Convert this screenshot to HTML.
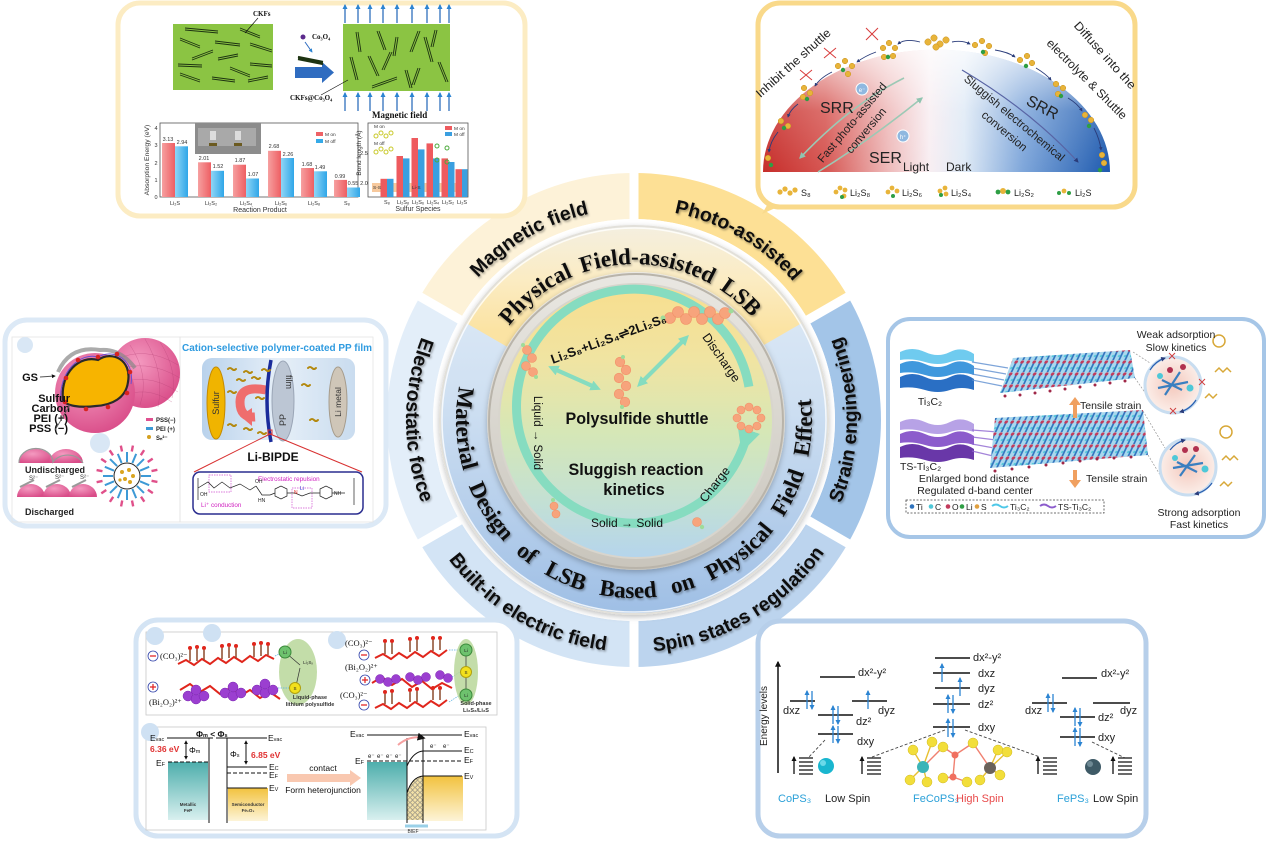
<!DOCTYPE html>
<html><head><meta charset="utf-8">
<style>
html,body{margin:0;padding:0;background:#fff;}
svg{display:block;}
</style></head><body>
<svg width="1269" height="842" viewBox="0 0 1269 842" xmlns="http://www.w3.org/2000/svg" font-family="Liberation Sans, sans-serif">
<defs>
<filter id="sh" x="-10%" y="-10%" width="120%" height="130%"><feDropShadow dx="1.2" dy="1.6" stdDeviation="1" flood-color="#000" flood-opacity="0.35"/></filter>
<filter id="rsh" x="-10%" y="-10%" width="120%" height="120%"><feDropShadow dx="0" dy="2" stdDeviation="3" flood-color="#000" flood-opacity="0.25"/></filter>
<linearGradient id="ringB" x1="0" y1="226" x2="0" y2="613" gradientUnits="userSpaceOnUse"><stop offset="0" stop-color="#e4eef8"/><stop offset="0.45" stop-color="#cfe0f2"/><stop offset="1" stop-color="#9fbfe5"/></linearGradient>
<linearGradient id="ringY" x1="0" y1="226" x2="0" y2="330" gradientUnits="userSpaceOnUse"><stop offset="0" stop-color="#f4efe0"/><stop offset="0.5" stop-color="#fbecc4"/><stop offset="1" stop-color="#fbe3a3"/></linearGradient>
<linearGradient id="disk" x1="0" y1="285" x2="0" y2="557" gradientUnits="userSpaceOnUse"><stop offset="0" stop-color="#f8de8e"/><stop offset="0.28" stop-color="#f0e4a2"/><stop offset="0.55" stop-color="#d5e7b7"/><stop offset="0.8" stop-color="#c3e0d4"/><stop offset="1" stop-color="#b5d5ec"/></linearGradient>
<linearGradient id="bez" x1="0" y1="273" x2="0" y2="570" gradientUnits="userSpaceOnUse"><stop offset="0" stop-color="#e9e7e2"/><stop offset="1" stop-color="#c9c5bc"/></linearGradient>
<linearGradient id="dome" x1="763" y1="0" x2="1110" y2="0" gradientUnits="userSpaceOnUse"><stop offset="0" stop-color="#c62d2a"/><stop offset="0.18" stop-color="#d65652"/><stop offset="0.36" stop-color="#eeb9b9"/><stop offset="0.48" stop-color="#f8eef2"/><stop offset="0.58" stop-color="#dfeaf6"/><stop offset="0.75" stop-color="#7ea6da"/><stop offset="1" stop-color="#1d59ae"/></linearGradient>
<linearGradient id="domeW" x1="0" y1="50" x2="0" y2="172" gradientUnits="userSpaceOnUse"><stop offset="0" stop-color="#fff" stop-opacity="0.75"/><stop offset="0.5" stop-color="#fff" stop-opacity="0.15"/><stop offset="1" stop-color="#fff" stop-opacity="0"/></linearGradient>
<linearGradient id="teal" x1="0" y1="0" x2="0" y2="1"><stop offset="0" stop-color="#4eaeac"/><stop offset="1" stop-color="#d9f0ef"/></linearGradient>
<linearGradient id="yel" x1="0" y1="0" x2="0" y2="1"><stop offset="0" stop-color="#f2c23e"/><stop offset="1" stop-color="#fdf4d8"/></linearGradient>
<linearGradient id="cell" x1="0" y1="0" x2="1" y2="0"><stop offset="0" stop-color="#b9d2ec"/><stop offset="0.5" stop-color="#e6eff8"/><stop offset="1" stop-color="#c9dcef"/></linearGradient>
<linearGradient id="barR" x1="0" y1="0" x2="1" y2="0"><stop offset="0" stop-color="#f6a0a0"/><stop offset="1" stop-color="#ee5f63"/></linearGradient>
<linearGradient id="barB" x1="0" y1="0" x2="1" y2="0"><stop offset="0" stop-color="#8fd6f6"/><stop offset="1" stop-color="#2fa6e8"/></linearGradient>
<radialGradient id="pink" cx="0.4" cy="0.35" r="0.7"><stop offset="0" stop-color="#f49ac0"/><stop offset="1" stop-color="#d94c88"/></radialGradient>
<radialGradient id="cir" cx="0.5" cy="0.5" r="0.5"><stop offset="0" stop-color="#f4c8bc"/><stop offset="1" stop-color="#fbeee9"/></radialGradient>
<pattern id="lat" width="6" height="12" patternUnits="userSpaceOnUse" patternTransform="skewX(-25)"><rect width="6" height="12" fill="#a9d8ee"/><line x1="3" y1="2" x2="3" y2="12" stroke="#2f72bd" stroke-width="1.8"/><circle cx="3" cy="2" r="1.7" fill="#c23b5c"/><circle cx="1" cy="8" r="1.1" fill="#4ec8d8"/></pattern>
<pattern id="dots" width="5" height="5" patternUnits="userSpaceOnUse"><rect width="5" height="5" fill="#f4e2a8"/><circle cx="2.5" cy="2.5" r="1.8" fill="none" stroke="#777" stroke-width="0.6"/></pattern>
<marker id="ab" viewBox="0 0 10 10" refX="8" refY="5" markerWidth="4" markerHeight="4" orient="auto"><path d="M0,0L10,5L0,10z" fill="#2b84d2"/></marker>
<marker id="ak" viewBox="0 0 10 10" refX="8" refY="5" markerWidth="4" markerHeight="4" orient="auto"><path d="M0,0L10,5L0,10z" fill="#111"/></marker>
<marker id="an" viewBox="0 0 10 10" refX="8" refY="5" markerWidth="4" markerHeight="4" orient="auto"><path d="M0,0L10,5L0,10z" fill="#2a3c7a"/></marker>
<marker id="ag" viewBox="0 0 10 10" refX="8" refY="5" markerWidth="4" markerHeight="4" orient="auto"><path d="M0,0L10,5L0,10z" fill="#8fc4b0"/></marker>
<marker id="am" viewBox="0 0 10 10" refX="6" refY="5" markerWidth="2.6" markerHeight="2.6" orient="auto"><path d="M0,0L10,5L0,10z" fill="#84dcbf"/></marker>
<path id="tMag" d="M435.7,347.8 A211,211 0 0 1 670.6,212.2"/>
<path id="tPho" d="M597.4,212.2 A211,211 0 0 1 832.3,347.8"/>
<path id="tStr" d="M804.8,563.3 A223,223 0 0 0 804.8,276.7"/>
<path id="tSpin" d="M593.7,648.5 A232,232 0 0 0 852,499.3"/>
<path id="tBuilt" d="M416,499.3 A232,232 0 0 0 674.3,648.5"/>
<path id="tElec" d="M459.4,273.4 A228,228 0 0 0 459.4,566.6"/>
<path id="tTop" d="M477.1,425.5 A157,157 0 0 1 790.9,414.5"/>
<path id="tBot" d="M483.1,325.7 A178,178 0 1 0 791.2,336.5"/>
</defs>

<rect width="1269" height="842" fill="#fff"/>

<!-- ===== outer wedges ===== -->
<path d="M420.1,296.5 A247,247 0 0 1 634,173 L634,219 A201,201 0 0 0 459.9,319.5 Z" fill="#fdf2d8"/>
<path d="M634,173 A247,247 0 0 1 847.9,296.5 L808.1,319.5 A201,201 0 0 0 634,219 Z" fill="#fde095"/>
<path d="M847.9,296.5 A247,247 0 0 1 847.9,543.5 L808.1,520.5 A201,201 0 0 0 808.1,319.5 Z" fill="#a3c5e8"/>
<path d="M847.9,543.5 A247,247 0 0 1 634,667 L634,621 A201,201 0 0 0 808.1,520.5 Z" fill="#bcd4ee"/>
<path d="M634,667 A247,247 0 0 1 420.1,543.5 L459.9,520.5 A201,201 0 0 0 634,621 Z" fill="#d3e4f5"/>
<path d="M420.1,543.5 A247,247 0 0 1 420.1,296.5 L459.9,319.5 A201,201 0 0 0 459.9,520.5 Z" fill="#e3eef9"/>
<g stroke="#fff" stroke-width="9">
<line x1="634" y1="420" x2="634" y2="160"/><line x1="634" y1="420" x2="856" y2="292"/><line x1="634" y1="420" x2="856" y2="548"/>
<line x1="634" y1="420" x2="634" y2="680"/><line x1="634" y1="420" x2="412" y2="548"/><line x1="634" y1="420" x2="412" y2="292"/>
</g>
<circle cx="634" cy="420" r="201" fill="#fff"/>

<g font-weight="bold" font-size="19.5" fill="#111" filter="url(#sh)" text-anchor="middle">
<text><textPath href="#tMag" startOffset="50%">Magnetic field</textPath></text>
<text><textPath href="#tPho" startOffset="50%">Photo-assisted</textPath></text>
<text><textPath href="#tStr" startOffset="50%">Strain engineering</textPath></text>
<text><textPath href="#tSpin" startOffset="50%">Spin states regulation</textPath></text>
<text><textPath href="#tBuilt" startOffset="50%">Built-in electric field</textPath></text>
<text><textPath href="#tElec" startOffset="50%">Electrostatic force</textPath></text>
</g>

<!-- ===== inner ring ===== -->
<circle cx="634" cy="420" r="194" fill="url(#ringB)" stroke="#e2e0da" stroke-width="2" filter="url(#rsh)"/>
<path d="M634,420 L466.9,323.5 A193,193 0 0 1 801.1,323.5 Z" fill="url(#ringY)"/>
<circle cx="634" cy="420" r="192" fill="none" stroke="#fff" stroke-width="1.5" opacity="0.8"/>
<g font-family="Liberation Serif, serif" font-weight="bold" font-size="23" fill="#111" filter="url(#sh)" text-anchor="middle">
<text word-spacing="4"><textPath href="#tTop" startOffset="50%">Physical Field-assisted LSB</textPath></text>
<text word-spacing="10"><textPath href="#tBot" startOffset="50%">Material Design of LSB Based on Physical Field Effect</textPath></text>
</g>

<!-- bezel + disk -->
<circle cx="636" cy="421" r="149" fill="url(#bez)" filter="url(#rsh)"/>
<circle cx="636" cy="421" r="147" fill="none" stroke="#b9b4aa" stroke-width="2"/>
<circle cx="636" cy="421" r="137" fill="url(#disk)" stroke="#d8d5cd" stroke-width="2"/>

<!-- mint cycle -->
<path d="M744.4,443.5 A117,117 0 1 1 748.9,386.8" fill="none" stroke="#86dcc0" stroke-width="9" marker-start="url(#am)"/>
<line x1="597" y1="388" x2="552" y2="368" stroke="#86dcc0" stroke-width="4" marker-end="url(#am)"/>
<line x1="552" y1="368" x2="597" y2="388" stroke="#86dcc0" stroke-width="4" marker-end="url(#am)"/>
<line x1="686" y1="338" x2="640" y2="384" stroke="#86dcc0" stroke-width="4" marker-end="url(#am)"/>
<line x1="640" y1="384" x2="686" y2="338" stroke="#86dcc0" stroke-width="4" marker-end="url(#am)"/>

<!-- molecules (orange) -->
<g fill="#f7a47c" stroke="#f19168" stroke-width="0.6">
<circle cx="670" cy="318" r="5.5"/><circle cx="678" cy="312" r="5.5"/><circle cx="686" cy="319" r="5.5"/><circle cx="694" cy="312" r="5.5"/><circle cx="702" cy="319" r="5.5"/><circle cx="710" cy="312" r="5.5"/><circle cx="718" cy="319" r="5.5"/><circle cx="725" cy="313" r="5.5"/>
<circle cx="527" cy="350" r="4.5"/><circle cx="532" cy="358" r="4.5"/><circle cx="526" cy="366" r="4.5"/><circle cx="533" cy="372" r="4.5"/>
<circle cx="620" cy="362" r="4.8"/><circle cx="626" cy="370" r="4.8"/><circle cx="619" cy="378" r="4.8"/><circle cx="626" cy="386" r="4.8"/><circle cx="619" cy="394" r="4.8"/><circle cx="625" cy="402" r="4.8"/>
<circle cx="741" cy="410" r="4"/><circle cx="749" cy="407" r="4"/><circle cx="757" cy="410" r="4"/><circle cx="761" cy="418" r="4"/><circle cx="757" cy="426" r="4"/><circle cx="749" cy="429" r="4"/><circle cx="741" cy="426" r="4"/><circle cx="737" cy="418" r="4"/>
<circle cx="554" cy="506" r="4"/><circle cx="556" cy="514" r="4"/><circle cx="697" cy="522" r="4.5"/>
</g>
<g fill="#9edc9a"><circle cx="663" cy="318" r="2.5"/><circle cx="731" cy="311" r="2.5"/><circle cx="523" cy="345" r="2"/><circle cx="536" cy="377" r="2"/><circle cx="623" cy="357" r="2"/><circle cx="622" cy="407" r="2"/><circle cx="553" cy="500" r="2"/><circle cx="702" cy="527" r="2.2"/></g>

<!-- center texts -->
<g fill="#111">
<text transform="translate(610,343) rotate(-20)" text-anchor="middle" font-size="13" font-weight="bold">Li₂S₈+Li₂S₄⇌2Li₂S₆</text>
<text x="637" y="424" text-anchor="middle" font-size="16.5" font-weight="bold" textLength="143" lengthAdjust="spacingAndGlyphs">Polysulfide shuttle</text>
<text x="636" y="475" text-anchor="middle" font-size="16.5" font-weight="bold" textLength="135" lengthAdjust="spacingAndGlyphs">Sluggish reaction</text>
<text x="634" y="495" text-anchor="middle" font-size="16.5" font-weight="bold">kinetics</text>
<text transform="translate(718,360) rotate(55)" text-anchor="middle" font-size="12.5">Discharge</text>
<text transform="translate(718,487) rotate(-52)" text-anchor="middle" font-size="12.5">Charge</text>
<text transform="translate(534,433) rotate(90)" text-anchor="middle" font-size="11.5">Liquid → Solid</text>
<text x="627" y="527" text-anchor="middle" font-size="12">Solid → Solid</text>
</g>

<!-- ===== Panel 1: magnetic field ===== -->
<rect x="118" y="3" width="407" height="213" rx="22" fill="#fff" stroke="#fcecc3" stroke-width="5"/>
<rect x="173" y="24" width="100" height="66" fill="#8bc443"/>
<rect x="343" y="24" width="107" height="67" fill="#8bc443"/>
<g stroke="#1d3311" stroke-width="0.9">
<path d="M185,28L218,31M185,30L218,33M240,28L260,36M240,30L260,38M180,38L200,46M180,40L200,48M215,41L240,44M215,43L240,46M250,43L272,50M250,45L272,52M192,58L213,50M192,60L213,52M218,58L238,54M218,60L238,56M250,63L272,65M250,65L272,67M178,64L202,65M178,66L202,67M230,67L250,75M230,69L250,77M180,73L200,80M180,75L200,82M212,77L235,80M212,79L235,82M248,80L268,76M248,82L268,78"/>
<path d="M356,32L359,52M358,32L361,52M377,31L384,50M379,31L386,50M396,37L393,56M398,37L395,56M418,31L410,52M420,31L412,52M435,30L431,47M437,30L433,47M350,57L356,80M352,57L358,80M368,56L377,76M370,56L379,76M390,52L382,70M392,52L384,70M424,37L431,62M426,37L433,62M405,70L410,88M407,70L412,88M372,86L397,77M372,88L397,79M418,68L412,85M420,68L414,85M438,62L446,82M440,62L448,82"/>
</g>
<g stroke="#2f6fbc" stroke-width="1.3">
<line x1="345" y1="23" x2="345" y2="5" marker-end="url(#ab)"/><line x1="358" y1="23" x2="358" y2="5" marker-end="url(#ab)"/><line x1="370" y1="23" x2="370" y2="5" marker-end="url(#ab)"/><line x1="383" y1="23" x2="383" y2="5" marker-end="url(#ab)"/><line x1="397" y1="23" x2="397" y2="5" marker-end="url(#ab)"/><line x1="412" y1="23" x2="412" y2="5" marker-end="url(#ab)"/><line x1="427" y1="23" x2="427" y2="5" marker-end="url(#ab)"/><line x1="440" y1="23" x2="440" y2="5" marker-end="url(#ab)"/><line x1="449" y1="23" x2="449" y2="5" marker-end="url(#ab)"/>
<line x1="345" y1="111" x2="345" y2="93" marker-end="url(#ab)"/><line x1="358" y1="111" x2="358" y2="93" marker-end="url(#ab)"/><line x1="370" y1="111" x2="370" y2="93" marker-end="url(#ab)"/><line x1="383" y1="111" x2="383" y2="93" marker-end="url(#ab)"/><line x1="397" y1="111" x2="397" y2="93" marker-end="url(#ab)"/><line x1="412" y1="111" x2="412" y2="93" marker-end="url(#ab)"/><line x1="427" y1="111" x2="427" y2="93" marker-end="url(#ab)"/><line x1="440" y1="111" x2="440" y2="93" marker-end="url(#ab)"/><line x1="449" y1="111" x2="449" y2="93" marker-end="url(#ab)"/>
</g>
<polygon points="295,67 322,67 322,62 334,72.5 322,83 322,78 295,78" fill="#2f6cc0"/>
<circle cx="303" cy="37" r="2.5" fill="#5b2a8c"/>
<line x1="305" y1="42" x2="312" y2="52" stroke="#2f6cc0" stroke-width="1" marker-end="url(#ab)"/>
<path d="M298,57L323,62M298,59L323,64" stroke="#1d3311" stroke-width="2.2"/>
<g font-family="Liberation Serif, serif" font-weight="bold" fill="#111">
<text x="312" y="39" font-size="7">Co₃O₄</text>
<text x="253" y="16" font-size="7">CKFs</text>
<text x="290" y="100" font-size="7">CKFs@Co₃O₄</text>
<text x="372" y="118" font-size="9">Magnetic   field</text>
</g>
<line x1="258" y1="18" x2="245" y2="33" stroke="#111" stroke-width="0.7"/>
<line x1="321" y1="95" x2="348" y2="80" stroke="#111" stroke-width="0.7"/>
<!-- chart 1 -->
<rect x="160" y="123" width="198" height="74" fill="none" stroke="#555" stroke-width="0.8"/>
<rect x="195" y="123" width="66" height="31" fill="#8c8c8c"/>
<rect x="198" y="128" width="58" height="18" fill="#a9a9a9"/>
<rect x="210" y="131" width="6" height="9" fill="#ddd"/><rect x="235" y="131" width="6" height="9" fill="#ddd"/>
<rect x="209" y="143" width="8" height="3" fill="#6b5a20"/><rect x="234" y="143" width="8" height="3" fill="#6b5a20"/>
<g>
<rect x="162" y="143" width="13" height="54" fill="url(#barR)"/><rect x="175" y="146.3" width="13" height="50.7" fill="url(#barB)"/>
<rect x="198" y="162.3" width="13" height="34.7" fill="url(#barR)"/><rect x="211" y="170.8" width="13" height="26.2" fill="url(#barB)"/>
<rect x="233" y="164.7" width="13" height="32.3" fill="url(#barR)"/><rect x="246" y="178.5" width="13" height="18.5" fill="url(#barB)"/>
<rect x="268" y="150.8" width="13" height="46.2" fill="url(#barR)"/><rect x="281" y="158" width="13" height="39" fill="url(#barB)"/>
<rect x="301" y="168" width="13" height="29" fill="url(#barR)"/><rect x="314" y="171.3" width="13" height="25.7" fill="url(#barB)"/>
<rect x="334" y="179.9" width="13" height="17.1" fill="url(#barR)"/><rect x="347" y="187.5" width="13" height="9.5" fill="url(#barB)"/>
</g>
<g font-size="5.5" fill="#333" text-anchor="middle">
<text x="168" y="141">3.13</text><text x="182" y="144">2.94</text><text x="204" y="160">2.01</text><text x="218" y="168">1.52</text><text x="240" y="162">1.87</text><text x="253" y="176">1.07</text><text x="274" y="148">2.68</text><text x="288" y="156">2.26</text><text x="307" y="166">1.68</text><text x="320" y="169">1.49</text><text x="340" y="178">0.99</text><text x="353" y="185">0.55</text>
<text x="156" y="130">4</text><text x="156" y="147">3</text><text x="156" y="165">2</text><text x="156" y="182">1</text><text x="156" y="199">0</text>
<text x="175" y="205">Li₂S</text><text x="211" y="205">Li₂S₂</text><text x="246" y="205">Li₂S₄</text><text x="281" y="205">Li₂S₆</text><text x="314" y="205">Li₂S₈</text><text x="347" y="205">S₈</text>
<text x="260" y="212" font-size="7">Reaction Product</text>
<text transform="translate(149,160) rotate(-90)" font-size="6.8">Absorption Energy (eV)</text>
</g>
<rect x="316" y="132" width="7" height="4" fill="#ee6266"/><rect x="316" y="139" width="7" height="4" fill="#35aae8"/>
<text x="325" y="136" font-size="4.8" fill="#333">M on</text><text x="325" y="143" font-size="4.8" fill="#333">M off</text>
<!-- chart 2 -->
<rect x="368" y="123" width="100" height="74" fill="none" stroke="#555" stroke-width="0.8"/>
<rect x="372" y="183" width="95" height="9" fill="#f6c08c" opacity="0.85"/>
<g>
<rect x="380.5" y="178.8" width="6.5" height="18.2" fill="#ee5a5e"/><rect x="387" y="178.8" width="6.5" height="18.2" fill="#3a9fe0"/>
<rect x="396.5" y="156" width="6.5" height="41" fill="#ee5a5e"/><rect x="403" y="158.4" width="6.5" height="38.6" fill="#3a9fe0"/>
<rect x="411.5" y="138" width="6.5" height="59" fill="#ee5a5e"/><rect x="418" y="149.4" width="6.5" height="47.6" fill="#3a9fe0"/>
<rect x="426.5" y="143.4" width="6.5" height="53.6" fill="#ee5a5e"/><rect x="433" y="158.4" width="6.5" height="38.6" fill="#3a9fe0"/>
<rect x="441.5" y="158.4" width="6.5" height="38.6" fill="#ee5a5e"/><rect x="448" y="162" width="6.5" height="35" fill="#3a9fe0"/>
<rect x="455.5" y="169.2" width="6.5" height="27.8" fill="#ee5a5e"/><rect x="462" y="169.2" width="5.5" height="27.8" fill="#3a9fe0"/>
</g>
<g fill="none" stroke="#c9c92a" stroke-width="1"><circle cx="376" cy="136" r="2"/><circle cx="381" cy="133" r="2"/><circle cx="386" cy="136" r="2"/><circle cx="391" cy="133" r="2"/><circle cx="376" cy="152" r="2"/><circle cx="381" cy="149" r="2"/><circle cx="386" cy="152" r="2"/><circle cx="391" cy="149" r="2"/><circle cx="437" cy="146" r="2" stroke="#4caa3c"/><circle cx="447" cy="148" r="2" stroke="#4caa3c"/><circle cx="437" cy="160" r="2" stroke="#4caa3c"/><circle cx="447" cy="162" r="2" stroke="#4caa3c"/></g>
<rect x="445" y="126" width="7" height="4" fill="#ee5a5e"/><rect x="445" y="132" width="7" height="4" fill="#3a9fe0"/>
<g font-size="4.8" fill="#333"><text x="454" y="130">M on</text><text x="454" y="136">M off</text><text x="374" y="128">M on</text><text x="374" y="145">M off</text><text x="373" y="189">S-S</text><text x="412" y="189">Li-S</text></g>
<g font-size="5.5" fill="#333" text-anchor="middle">
<text x="364" y="185">2.0</text><text x="364" y="155">2.5</text>
<text x="387" y="204">S₈</text><text x="403" y="204">Li₂S₈</text><text x="418" y="204">Li₂S₆</text><text x="433" y="204">Li₂S₄</text><text x="448" y="204">Li₂S₂</text><text x="462" y="204">Li₂S</text>
<text x="418" y="211" font-size="7">Sulfur Species</text>
<text transform="translate(361,153) rotate(-90)" font-size="6.5">Bond length (Å)</text>
</g>

<!-- ===== Panel 2: photo-assisted ===== -->
<path d="M770,200 L762,214 L782,205 Z" fill="#f9da8c"/>
<rect x="758" y="3" width="377" height="204" rx="22" fill="#fff" stroke="#f9d98a" stroke-width="5"/>
<path d="M763,172 A173,122 0 0 1 1110,172 Z" fill="url(#dome)"/>
<path d="M763,172 A173,122 0 0 1 1110,172 Z" fill="url(#domeW)"/>
<path d="M904,78 Q850,105 800,158" fill="none" stroke="#9cc9b5" stroke-width="1.6" marker-end="url(#ag)"/>
<path d="M818,172 Q870,140 922,98" fill="none" stroke="#9cc9b5" stroke-width="1.6" marker-end="url(#ag)"/>
<path d="M962,70 Q1030,110 1078,162" fill="none" stroke="#5864a4" stroke-width="1.2" marker-end="url(#an)"/>
<g fill="#222">
<text x="820" y="113" font-size="16">SRR</text>
<text x="869" y="163" font-size="16">SER</text>
<text transform="translate(1040,112) rotate(28)" text-anchor="middle" font-size="16">SRR</text>
<text x="903" y="171" font-size="12">Light</text><text x="946" y="171" font-size="12">Dark</text>
<text transform="translate(855,125) rotate(-50)" text-anchor="middle" font-size="11.5">Fast photo-assisted</text>
<text transform="translate(869,133) rotate(-50)" text-anchor="middle" font-size="11.5">conversion</text>
<text transform="translate(1012,121) rotate(40)" text-anchor="middle" font-size="11.5">Sluggish electrochemical</text>
<text transform="translate(1002,134) rotate(40)" text-anchor="middle" font-size="11.5">conversion</text>
<text transform="translate(796,66) rotate(-42)" text-anchor="middle" font-size="12" textLength="96" lengthAdjust="spacingAndGlyphs">Inhibit the shuttle</text>
<text transform="translate(1102,58) rotate(48)" text-anchor="middle" font-size="12" textLength="86" lengthAdjust="spacingAndGlyphs">Diffuse into the</text>
<text transform="translate(1084,82) rotate(45)" text-anchor="middle" font-size="12" textLength="108" lengthAdjust="spacingAndGlyphs">electrolyte &amp; Shuttle</text>
</g>
<circle cx="862" cy="89" r="6" fill="#8fb8e0" stroke="#fff"/><text x="862" y="92" font-size="6" fill="#fff" text-anchor="middle">e⁻</text>
<circle cx="903" cy="136" r="6" fill="#8fb8e0" stroke="#fff"/><text x="903" y="139" font-size="6" fill="#fff" text-anchor="middle">h⁺</text>
<g fill="#e8b43a" stroke="#c89220" stroke-width="0.5">
<circle cx="928" cy="42" r="3.2"/><circle cx="934" cy="38" r="3.2"/><circle cx="940" cy="44" r="3.2"/><circle cx="946" cy="40" r="3.2"/><circle cx="936" cy="47" r="3.2"/>
<circle cx="883" cy="48" r="2.8"/><circle cx="889" cy="43" r="2.8"/><circle cx="895" cy="48" r="2.8"/><circle cx="893" cy="56" r="2.8"/><circle cx="884" cy="57" r="2.8"/>
<circle cx="838" cy="66" r="2.8"/><circle cx="845" cy="61" r="2.8"/><circle cx="852" cy="66" r="2.8"/><circle cx="848" cy="74" r="2.8"/>
<circle cx="804" cy="88" r="2.8"/><circle cx="810" cy="93" r="2.8"/><circle cx="803" cy="97" r="2.8"/>
<circle cx="781" cy="121" r="2.8"/><circle cx="788" cy="126" r="2.8"/>
<circle cx="768" cy="158" r="2.8"/>
<circle cx="975" cy="45" r="2.8"/><circle cx="982" cy="41" r="2.8"/><circle cx="989" cy="46" r="2.8"/><circle cx="985" cy="53" r="2.8"/>
<circle cx="1020" cy="60" r="2.8"/><circle cx="1027" cy="56" r="2.8"/><circle cx="1032" cy="63" r="2.8"/>
<circle cx="1056" cy="84" r="2.8"/><circle cx="1063" cy="88" r="2.8"/><circle cx="1058" cy="94" r="2.8"/>
<circle cx="1085" cy="115" r="2.8"/><circle cx="1091" cy="120" r="2.8"/>
<circle cx="1102" cy="155" r="2.8"/><circle cx="1104" cy="163" r="2.8"/>
</g>
<g fill="#2e9e44"><circle cx="888" cy="57" r="2.2"/><circle cx="843" cy="70" r="2.2"/><circle cx="807" cy="99" r="2.2"/><circle cx="784" cy="128" r="2.2"/><circle cx="771" cy="165" r="2.2"/><circle cx="983" cy="52" r="2.2"/><circle cx="1026" cy="66" r="2.2"/><circle cx="1061" cy="96" r="2.2"/><circle cx="1089" cy="126" r="2.2"/><circle cx="1100" cy="170" r="2.2"/></g>
<g stroke="#d83a3a" stroke-width="1"><path d="M866,28L878,40M878,28L866,40M824,48L836,58M836,48L824,58M800,70L812,80M812,70L800,80"/></g>
<g fill="none" stroke="#2a3c7a" stroke-width="0.9">
<path d="M920,42 Q905,38 898,44" marker-end="url(#an)"/><path d="M876,52 Q865,56 857,62" marker-end="url(#an)"/><path d="M832,72 Q820,78 815,86" marker-end="url(#an)"/><path d="M798,104 Q790,110 788,117" marker-end="url(#an)"/><path d="M778,132 Q770,142 769,152" marker-end="url(#an)"/>
<path d="M952,42 Q962,40 970,44" marker-end="url(#an)"/><path d="M995,50 Q1008,52 1015,57" marker-end="url(#an)"/><path d="M1036,68 Q1046,74 1051,80" marker-end="url(#an)"/><path d="M1068,98 Q1078,104 1082,111" marker-end="url(#an)"/><path d="M1094,128 Q1100,140 1101,150" marker-end="url(#an)"/>
</g>
<g fill="#e8b43a"><circle cx="780" cy="192" r="2.6"/><circle cx="785" cy="189" r="2.6"/><circle cx="790" cy="193" r="2.6"/><circle cx="795" cy="190" r="2.6"/>
<circle cx="836" cy="192" r="2.4"/><circle cx="840" cy="188" r="2.4"/><circle cx="845" cy="190" r="2.4"/><circle cx="844" cy="196" r="2.4"/>
<circle cx="888" cy="192" r="2.4"/><circle cx="892" cy="188" r="2.4"/><circle cx="897" cy="191" r="2.4"/>
<circle cx="940" cy="191" r="2.4"/><circle cx="945" cy="188" r="2.4"/><circle cx="946" cy="194" r="2.4"/>
<circle cx="1003" cy="191" r="3"/><circle cx="1064" cy="191" r="2.4"/></g>
<g fill="#2e9e44"><circle cx="842" cy="197" r="2"/><circle cx="893" cy="196" r="2"/><circle cx="941" cy="195" r="2"/><circle cx="998" cy="192" r="2.4"/><circle cx="1008" cy="192" r="2.4"/><circle cx="1059" cy="193" r="2"/><circle cx="1069" cy="193" r="2"/></g>
<g font-size="9" fill="#222"><text x="801" y="196">S₈</text><text x="850" y="196">Li₂S₈</text><text x="902" y="196">Li₂S₆</text><text x="951" y="196">Li₂S₄</text><text x="1014" y="196">Li₂S₂</text><text x="1075" y="196">Li₂S</text></g>

<!-- ===== Panel 3: electrostatic ===== -->
<rect x="5" y="320" width="381" height="206" rx="22" fill="#fff" stroke="#dce9f6" stroke-width="5"/>
<rect x="12" y="337" width="168" height="185" fill="none" stroke="#e4e4e4" stroke-width="0.8"/>
<rect x="180" y="337" width="193" height="185" fill="none" stroke="#e4e4e4" stroke-width="0.8"/>
<circle cx="25" cy="345" r="8" fill="#d9e7f5"/><circle cx="100" cy="443" r="10" fill="#d9e7f5"/>
<circle cx="145" cy="373" r="35" fill="url(#pink)"/>
<g stroke="#b03d72" stroke-width="0.4" opacity="0.6" fill="none"><path d="M115,360 Q145,345 178,365M112,372 Q145,357 180,378M114,386 Q145,370 178,392M120,398 Q145,384 172,402M130,345 Q150,375 140,405M145,339 Q165,372 158,407M160,342 Q178,370 172,398"/></g>
<circle cx="95" cy="393" r="40" fill="url(#pink)"/>
<path d="M58,372 Q70,345 100,350 Q120,348 135,368" fill="none" stroke="#888" stroke-width="4" opacity="0.7"/>
<path d="M63,400 C60,372 80,355 98,360 C112,350 132,360 128,382 C126,398 112,405 96,406 C80,408 66,406 63,400 Z" fill="#f7b400" stroke="#2a2a2a" stroke-width="2.2"/>
<path d="M61,402 C58,372 80,352 98,357 C114,348 135,360 131,384" fill="none" stroke="#6a4fd0" stroke-width="1"/>
<g fill="#d8231f"><circle cx="66" cy="378" r="2.3"/><circle cx="78" cy="360" r="2.3"/><circle cx="98" cy="357" r="2.3"/><circle cx="117" cy="354" r="2.3"/><circle cx="130" cy="372" r="2.3"/><circle cx="127" cy="393" r="2.3"/><circle cx="108" cy="407" r="2.3"/><circle cx="86" cy="409" r="2.3"/><circle cx="65" cy="402" r="2.3"/></g>
<g font-size="11" font-weight="bold" fill="#111" text-anchor="end">
<text x="38" y="381">GS</text><text x="70" y="402">Sulfur</text><text x="70" y="412">Carbon</text><text x="68" y="422">PEI (+)</text><text x="68" y="432">PSS (−)</text>
</g>
<path d="M40,377 L55,376" stroke="#555" stroke-width="1" marker-end="url(#ak)"/>
<path d="M70,405 L55,430" stroke="#555" stroke-width="0.8" fill="none"/>
<g font-size="6" font-weight="bold" fill="#222"><text x="156" y="422">PSS(−)</text><text x="156" y="431">PEI (+)</text><text x="156" y="440">Sₙ²⁻</text></g>
<rect x="146" y="418" width="7" height="3" fill="#e05090"/><rect x="146" y="427" width="7" height="3" fill="#3d9ad6"/><circle cx="149" cy="437" r="2" fill="#d4a020"/>
<path d="M19,463 A17,14 0 0 1 53,463 Z" fill="url(#pink)"/><path d="M49,463 A17,14 0 0 1 83,463 Z" fill="url(#pink)"/>
<path d="M19,463 A17,14 0 0 1 53,462 A17,14 0 0 1 83,463" fill="none" stroke="#999" stroke-width="1.2"/>
<text x="25" y="473" font-size="9" font-weight="bold" fill="#222">Undischarged</text>
<path d="M17,497 A14,13 0 0 1 45,497 Z" fill="url(#pink)"/><path d="M43,497 A14,13 0 0 1 71,497 Z" fill="url(#pink)"/><path d="M69,497 A14,13 0 0 1 97,497 Z" fill="url(#pink)"/>
<g stroke="#999" stroke-width="2" fill="none"><path d="M20,487 L34,480"/><path d="M46,487 L60,480"/><path d="M72,487 L86,480"/></g>
<g font-size="6" fill="#333"><text x="29" y="480">S²⁻</text><text x="55" y="479">S²⁻</text><text x="80" y="479">S²⁻</text></g>
<text x="25" y="515" font-size="9" font-weight="bold" fill="#222">Discharged</text>
<g transform="translate(127,476)">
<g stroke="#3d9ad6" stroke-width="2">
<line x1="0" y1="-14" x2="0" y2="-24"/><line x1="0" y1="-14" x2="0" y2="-24" transform="rotate(22.5)"/><line x1="0" y1="-14" x2="0" y2="-24" transform="rotate(45)"/><line x1="0" y1="-14" x2="0" y2="-24" transform="rotate(67.5)"/><line x1="0" y1="-14" x2="0" y2="-24" transform="rotate(90)"/><line x1="0" y1="-14" x2="0" y2="-24" transform="rotate(112.5)"/><line x1="0" y1="-14" x2="0" y2="-24" transform="rotate(135)"/><line x1="0" y1="-14" x2="0" y2="-24" transform="rotate(157.5)"/><line x1="0" y1="-14" x2="0" y2="-24" transform="rotate(180)"/><line x1="0" y1="-14" x2="0" y2="-24" transform="rotate(202.5)"/><line x1="0" y1="-14" x2="0" y2="-24" transform="rotate(225)"/><line x1="0" y1="-14" x2="0" y2="-24" transform="rotate(247.5)"/><line x1="0" y1="-14" x2="0" y2="-24" transform="rotate(270)"/><line x1="0" y1="-14" x2="0" y2="-24" transform="rotate(292.5)"/><line x1="0" y1="-14" x2="0" y2="-24" transform="rotate(315)"/><line x1="0" y1="-14" x2="0" y2="-24" transform="rotate(337.5)"/>
</g>
<g stroke="#e0508a" stroke-width="2.4">
<line x1="0" y1="-25" x2="0" y2="-31" transform="rotate(11)"/><line x1="0" y1="-25" x2="0" y2="-31" transform="rotate(33.5)"/><line x1="0" y1="-25" x2="0" y2="-31" transform="rotate(56)"/><line x1="0" y1="-25" x2="0" y2="-31" transform="rotate(78.5)"/><line x1="0" y1="-25" x2="0" y2="-31" transform="rotate(101)"/><line x1="0" y1="-25" x2="0" y2="-31" transform="rotate(123.5)"/><line x1="0" y1="-25" x2="0" y2="-31" transform="rotate(146)"/><line x1="0" y1="-25" x2="0" y2="-31" transform="rotate(168.5)"/><line x1="0" y1="-25" x2="0" y2="-31" transform="rotate(191)"/><line x1="0" y1="-25" x2="0" y2="-31" transform="rotate(213.5)"/><line x1="0" y1="-25" x2="0" y2="-31" transform="rotate(236)"/><line x1="0" y1="-25" x2="0" y2="-31" transform="rotate(258.5)"/><line x1="0" y1="-25" x2="0" y2="-31" transform="rotate(281)"/><line x1="0" y1="-25" x2="0" y2="-31" transform="rotate(303.5)"/><line x1="0" y1="-25" x2="0" y2="-31" transform="rotate(326)"/><line x1="0" y1="-25" x2="0" y2="-31" transform="rotate(348.5)"/>
</g>
<circle cx="0" cy="0" r="13" fill="#fff" stroke="#222" stroke-width="1"/>
<g fill="#d9a520"><circle cx="-5" cy="-4" r="2"/><circle cx="2" cy="-6" r="2"/><circle cx="6" cy="0" r="2"/><circle cx="-2" cy="3" r="2"/><circle cx="3" cy="6" r="2"/><circle cx="-7" cy="4" r="1.6"/></g>
</g>
<!-- right part -->
<text x="182" y="351" font-size="10.5" font-weight="bold" fill="#2f9be0" textLength="190" lengthAdjust="spacingAndGlyphs">Cation-selective polymer-coated PP film</text>
<rect x="202" y="358" width="153" height="82" rx="10" fill="url(#cell)"/>
<ellipse cx="216" cy="403" rx="9" ry="36" fill="#f0b400" stroke="#c48a00"/>
<text transform="translate(219,403) rotate(-90)" text-anchor="middle" font-size="9" fill="#333">Sulfur</text>
<path d="M266,390 Q240,385 240,402 Q240,418 255,417" fill="none" stroke="#ef6d6d" stroke-width="9"/>
<polygon points="252,408 252,426 240,416" fill="#ef6d6d"/>
<path d="M271,360 Q263,400 271,442" fill="none" stroke="#1a2b9b" stroke-width="3.5"/>
<ellipse cx="283" cy="401" rx="11" ry="40" fill="#bcc6d4" stroke="#9aa5b6"/>
<text transform="translate(286,382) rotate(90)" text-anchor="middle" font-size="9" fill="#333">film</text>
<text transform="translate(286,420) rotate(-90)" text-anchor="middle" font-size="9" fill="#333">PP</text>
<ellipse cx="338" cy="402" rx="9" ry="35" fill="#cfc6b8" stroke="#a69c8c"/>
<text transform="translate(341,402) rotate(-90)" text-anchor="middle" font-size="8.5" fill="#333">Li metal</text>
<g stroke="#b38910" stroke-width="2" fill="none" stroke-linecap="round">
<path d="M228,369 q2,-2 4,0 q2,2 4,0"/><path d="M244,372 q2,-2 4,0 q2,2 4,0"/><path d="M237,380 q2,-2 4,0 q2,2 4,0"/><path d="M252,378 q2,-2 4,0 q2,2 4,0"/><path d="M228,392 q2,-2 4,0 q2,2 4,0"/><path d="M256,398 q2,-2 4,0 q2,2 4,0"/><path d="M228,425 q2,-2 4,0 q2,2 4,0"/><path d="M244,429 q2,-2 4,0 q2,2 4,0"/><path d="M258,433 q2,-2 4,0 q2,2 4,0"/><path d="M302,385 q2,-2 4,0 q2,2 4,0"/><path d="M310,420 q2,-2 4,0 q2,2 4,0"/><path d="M308,368 q2,-2 4,0 q2,2 4,0"/><path d="M262,370 q2,-2 4,0 q2,2 4,0"/></g>
<rect x="268" y="430" width="4" height="4" fill="none" stroke="#d83030"/>
<line x1="270" y1="434" x2="194" y2="472" stroke="#d83030" stroke-width="1"/><line x1="270" y1="434" x2="362" y2="472" stroke="#d83030" stroke-width="1"/>
<text x="273" y="461" text-anchor="middle" font-size="12" font-weight="bold" fill="#111">Li-BIPDE</text>
<rect x="193" y="472" width="170" height="42" rx="7" fill="#fff" stroke="#2a2d8f" stroke-width="1.5"/>
<rect x="209" y="475" width="22" height="17" fill="none" stroke="#d050d0" stroke-width="0.7" stroke-dasharray="1.5,1"/>
<rect x="292" y="488" width="20" height="20" fill="none" stroke="#d050d0" stroke-width="0.7" stroke-dasharray="1.5,1"/>
<g stroke="#222" stroke-width="0.7" fill="none">
<path d="M198,478 L198,500 M198,488 L208,482 L214,488 L222,482 L230,488 L240,484 L250,490 L256,486 M256,486 L262,495 L270,495"/>
<polygon points="275,489 281,486 287,489 287,496 281,499 275,496"/><polygon points="320,489 326,486 332,489 332,496 326,499 320,496"/>
<path d="M270,495 L275,493 M287,493 L295,493 L302,496 L310,493 L320,493 M332,493 L345,493 M354,478 L354,505"/>
</g>
<g font-size="6.3" fill="#d020c0"><text x="258" y="481">Electrostatic repulsion</text><text x="201" y="507">Li⁺ conduction</text></g>
<text x="294" y="494" font-size="5" fill="#e02020">N</text><text x="300" y="490" font-size="5" fill="#3030d0">Li</text>
<g font-size="5" fill="#222"><text x="200" y="496">OH</text><text x="255" y="483">OH</text><text x="258" y="502">HN</text><text x="334" y="495">NH</text></g>

<!-- ===== Panel 4: strain ===== -->
<rect x="888" y="319" width="376" height="218" rx="22" fill="#fff" stroke="#a6c6e7" stroke-width="4"/>
<path d="M900,352 Q912,346 925,352 T950,352 T974,354 L974,362 Q962,358 950,362 T925,362 T900,360 Z" fill="#6fcbef"/>
<path d="M900,364 Q912,358 925,364 T950,364 T974,366 L974,375 Q962,371 950,375 T925,375 T900,373 Z" fill="#3f98dd"/>
<path d="M900,377 Q912,371 925,377 T950,377 T974,379 L974,390 Q962,386 950,390 T925,390 T900,388 Z" fill="#2a6fc4"/>
<path d="M900,422 Q912,416 925,422 T950,422 T974,424 L974,432 Q962,428 950,432 T925,432 T900,430 Z" fill="#b7a2e6"/>
<path d="M900,434 Q912,428 925,434 T950,434 T974,436 L974,445 Q962,441 950,445 T925,445 T900,443 Z" fill="#8c5ccc"/>
<path d="M900,447 Q912,441 925,447 T950,447 T974,449 L974,460 Q962,456 950,460 T925,460 T900,458 Z" fill="#6937a8"/>
<g stroke="#5f8fd0" stroke-width="1.2" opacity="0.8"><line x1="972" y1="362" x2="1008" y2="368"/><line x1="972" y1="368" x2="1006" y2="374"/><line x1="972" y1="374" x2="1004" y2="380"/><line x1="972" y1="380" x2="1002" y2="386"/></g>
<g stroke="#8e66d0" stroke-width="1.2" opacity="0.8"><line x1="972" y1="430" x2="998" y2="432"/><line x1="972" y1="437" x2="996" y2="440"/><line x1="972" y1="444" x2="994" y2="448"/><line x1="972" y1="451" x2="993" y2="456"/></g>
<polygon points="1013,358 1130,350 1135,378 1000,393" fill="url(#lat)"/>
<polygon points="995,418 1143,410 1148,455 990,468" fill="url(#lat)"/>
<g fill="#a02848"><circle cx="1005" cy="396" r="1.5"/><circle cx="1020" cy="395" r="1.5"/><circle cx="1035" cy="393" r="1.5"/><circle cx="1050" cy="391" r="1.5"/><circle cx="1065" cy="389" r="1.5"/><circle cx="1080" cy="387" r="1.5"/><circle cx="1095" cy="385" r="1.5"/><circle cx="1110" cy="383" r="1.5"/><circle cx="1125" cy="381" r="1.5"/>
<circle cx="995" cy="471" r="1.5"/><circle cx="1012" cy="469" r="1.5"/><circle cx="1029" cy="467" r="1.5"/><circle cx="1046" cy="465" r="1.5"/><circle cx="1063" cy="463" r="1.5"/><circle cx="1080" cy="461" r="1.5"/><circle cx="1097" cy="459" r="1.5"/><circle cx="1114" cy="458" r="1.5"/><circle cx="1131" cy="457" r="1.5"/></g>
<g stroke="#999" stroke-width="0.7" stroke-dasharray="2,1.5"><line x1="1133" y1="352" x2="1150" y2="363"/><line x1="1135" y1="378" x2="1150" y2="400"/><line x1="1143" y1="411" x2="1165" y2="448"/><line x1="1148" y1="455" x2="1168" y2="488"/></g>
<circle cx="1173" cy="385" r="28" fill="url(#cir)" stroke="#c8ddf0" stroke-width="3"/>
<circle cx="1188" cy="467" r="28" fill="url(#cir)" stroke="#c8ddf0" stroke-width="3"/>
<g stroke="#3a7fc0" stroke-width="2.2"><line x1="1162" y1="380" x2="1182" y2="390"/><line x1="1165" y1="395" x2="1180" y2="372"/><line x1="1158" y1="388" x2="1188" y2="382"/><line x1="1177" y1="462" x2="1197" y2="472"/><line x1="1180" y1="476" x2="1195" y2="455"/><line x1="1173" y1="468" x2="1203" y2="463"/></g>
<g fill="#4ec8d8"><circle cx="1190" cy="388" r="3.5"/><circle cx="1160" cy="376" r="3"/><circle cx="1205" cy="469" r="3.5"/><circle cx="1175" cy="458" r="3"/></g>
<g fill="#b0304e"><circle cx="1170" cy="370" r="3"/><circle cx="1183" cy="367" r="3"/><circle cx="1185" cy="450" r="3"/><circle cx="1196" cy="449" r="3"/></g>
<g fill="none" stroke="#2a5fb0" stroke-width="1.2"><path d="M1150,370 A28,28 0 0 1 1165,358" marker-end="url(#an)"/><path d="M1196,400 A28,28 0 0 1 1180,412" marker-end="url(#an)"/><path d="M1170,450 A28,28 0 0 1 1185,440" marker-end="url(#an)"/><path d="M1212,483 A28,28 0 0 1 1195,494" marker-end="url(#an)"/></g>
<g stroke="#d04040" stroke-width="1"><path d="M1169,353 l6,6 M1175,353 l-6,6 M1199,379 l6,6 M1205,379 l-6,6 M1170,408 l6,6 M1176,408 l-6,6"/></g>
<g fill="none" stroke="#d8a838" stroke-width="1.5"><circle cx="1219" cy="341" r="6"/><circle cx="1226" cy="432" r="6"/><path d="M1215,372 l4,-4 l4,4 l4,-4 l4,4"/><path d="M1205,398 l4,-4 l4,4 l4,-4"/><path d="M1222,460 l4,-4 l4,4 l4,-4 l4,4"/><path d="M1220,486 l4,-4 l4,4 l4,-4"/></g>
<polygon points="1075,397 1081,405 1077,405 1077,418 1073,418 1073,405 1069,405" fill="#f0a060"/>
<polygon points="1075,488 1081,480 1077,480 1077,470 1073,470 1073,480 1069,480" fill="#f0a060"/>
<g font-size="10.5" fill="#222">
<text x="1080" y="409">Tensile strain</text><text x="1086" y="482">Tensile strain</text>
<text x="930" y="405" text-anchor="middle">Ti₃C₂</text>
<text x="900" y="470">TS-Ti₃C₂</text>
<text x="974" y="482" text-anchor="middle">Enlarged bond distance</text>
<text x="975" y="494" text-anchor="middle">Regulated d-band center</text>
<text x="1176" y="338" text-anchor="middle">Weak adsorption</text><text x="1176" y="351" text-anchor="middle">Slow kinetics</text>
<text x="1199" y="516" text-anchor="middle">Strong adsorption</text><text x="1199" y="528" text-anchor="middle">Fast kinetics</text>
</g>
<rect x="906" y="500" width="198" height="13" fill="none" stroke="#444" stroke-width="0.8" stroke-dasharray="2,1.5"/>
<g><circle cx="912" cy="506.5" r="2.3" fill="#2f72bd"/><circle cx="931" cy="506.5" r="2.3" fill="#4ec8d8"/><circle cx="948" cy="506.5" r="2.3" fill="#c23b5c"/><circle cx="962" cy="506.5" r="2.3" fill="#2e9e44"/><circle cx="977" cy="506.5" r="2.3" fill="#e0a040"/>
<path d="M992,506 q4,-3 8,0 t8,0" stroke="#4ec8e8" stroke-width="2" fill="none"/><path d="M1040,506 q4,-3 8,0 t8,0" stroke="#8c5ccc" stroke-width="2" fill="none"/></g>
<g font-size="8.5" fill="#222"><text x="916" y="510">Ti</text><text x="935" y="510">C</text><text x="952" y="510">O</text><text x="966" y="510">Li</text><text x="981" y="510">S</text><text x="1010" y="510">Ti₃C₂</text><text x="1058" y="510">TS-Ti₃C₂</text></g>

<!-- ===== Panel 5: built-in electric field ===== -->
<rect x="136" y="620" width="381" height="216" rx="22" fill="#fff" stroke="#d4e4f4" stroke-width="5"/>
<rect x="146" y="632" width="351" height="83" fill="none" stroke="#c8c8c8" stroke-width="0.8"/>
<rect x="146" y="727" width="340" height="103" fill="none" stroke="#c8c8c8" stroke-width="0.8"/>
<g fill="#cfe1f3"><circle cx="155" cy="636" r="9"/><circle cx="212" cy="633" r="9"/><circle cx="337" cy="640" r="9"/><circle cx="150" cy="732" r="9"/></g>
<ellipse cx="298" cy="672" rx="19" ry="33" fill="#b9d79a" opacity="0.85"/>
<g stroke="#e0261c" stroke-width="2" fill="none">
<polyline points="178,664 186,660 194,665 202,659 210,664 218,658 226,663 234,657 242,662 250,656 258,661 266,655 274,659"/>
<polyline points="180,690 190,684 200,692 210,686 220,694 230,688 240,696 250,690 260,698 270,692 280,699"/>
<polyline points="375,658 383,654 391,659 399,653 407,658 415,652 423,657 431,651 439,656 447,650"/>
<polyline points="372,683 382,677 392,685 402,679 412,687 422,681 432,689 442,683 452,688"/>
<polyline points="375,708 383,704 391,709 399,703 407,708 415,702 423,707 431,701 439,706 447,700"/>
</g>
<g stroke="#8b4a2b" stroke-width="1.5">
<path d="M190,661 L190,650 M197,661 L197,649 M204,660 L204,650 M222,659 L222,648 M229,658 L229,647 M236,658 L236,648 M254,657 L254,646 M261,656 L261,645 M268,655 L268,646"/>
<path d="M385,654 L385,643 M392,654 L392,643 M410,652 L410,641 M417,651 L417,640 M433,651 L433,640 M440,650 L440,640"/>
<path d="M385,704 L385,694 M392,704 L392,693 M410,702 L410,692 M417,702 L417,691 M433,700 L433,690 M440,700 L440,690"/>
</g>
<g fill="#e0261c"><circle cx="190" cy="648" r="2"/><circle cx="197" cy="647" r="2"/><circle cx="204" cy="648" r="2"/><circle cx="222" cy="646" r="2"/><circle cx="229" cy="645" r="2"/><circle cx="236" cy="646" r="2"/><circle cx="254" cy="644" r="2"/><circle cx="261" cy="643" r="2"/><circle cx="268" cy="644" r="2"/>
<circle cx="385" cy="641" r="2"/><circle cx="392" cy="641" r="2"/><circle cx="410" cy="639" r="2"/><circle cx="417" cy="638" r="2"/><circle cx="433" cy="638" r="2"/><circle cx="440" cy="638" r="2"/>
<circle cx="385" cy="692" r="2"/><circle cx="392" cy="691" r="2"/><circle cx="410" cy="690" r="2"/><circle cx="417" cy="689" r="2"/><circle cx="433" cy="688" r="2"/><circle cx="440" cy="688" r="2"/></g>
<g fill="#9b3fd0" stroke="#7a22b0" stroke-width="0.5">
<circle cx="188" cy="696" r="5"/><circle cx="196" cy="699" r="5"/><circle cx="204" cy="696" r="5"/><circle cx="196" cy="690" r="5"/>
<circle cx="225" cy="693" r="5"/><circle cx="233" cy="696" r="5"/><circle cx="241" cy="693" r="5"/><circle cx="233" cy="687" r="5"/>
<circle cx="257" cy="690" r="5"/><circle cx="265" cy="693" r="5"/><circle cx="273" cy="690" r="5"/><circle cx="265" cy="684" r="5"/>
<circle cx="380" cy="679" r="4.5"/><circle cx="388" cy="682" r="4.5"/><circle cx="396" cy="679" r="4.5"/><circle cx="410" cy="677" r="4.5"/><circle cx="418" cy="680" r="4.5"/><circle cx="426" cy="677" r="4.5"/><circle cx="440" cy="675" r="4.5"/><circle cx="448" cy="678" r="4.5"/>
</g>
<g stroke="#5ab0e0" stroke-width="0.7" stroke-dasharray="1.5,1"><line x1="275" y1="656" x2="283" y2="652"/><line x1="278" y1="688" x2="290" y2="688"/><line x1="449" y1="650" x2="460" y2="650"/><line x1="452" y1="677" x2="460" y2="672"/><line x1="449" y1="702" x2="460" y2="695"/></g>
<line x1="286" y1="653" x2="300" y2="665" stroke="#333" stroke-width="0.7"/><line x1="296" y1="686" x2="300" y2="668" stroke="#333" stroke-width="0.7"/>
<circle cx="285" cy="652" r="6" fill="#6ec26e" stroke="#3a8a3a"/><circle cx="295" cy="688" r="5.5" fill="#f2e01c" stroke="#b0a010"/>
<ellipse cx="466" cy="672" rx="12" ry="33" fill="#b9d79a" opacity="0.85"/>
<line x1="466" y1="650" x2="466" y2="695" stroke="#333" stroke-width="0.7"/>
<circle cx="466" cy="650" r="6" fill="#6ec26e" stroke="#3a8a3a"/><circle cx="466" cy="672" r="5.5" fill="#f2e01c" stroke="#b0a010"/><circle cx="466" cy="695" r="6" fill="#6ec26e" stroke="#3a8a3a"/>
<g font-size="4.5" fill="#222" text-anchor="middle"><text x="285" y="654">Li</text><text x="295" y="690">S</text><text x="466" y="652">Li</text><text x="466" y="674">S</text><text x="466" y="697">Li</text><text x="308" y="664">Li₂Sₓ</text></g>
<g font-size="5.5" font-weight="bold" fill="#333" text-anchor="middle"><text x="310" y="699">Liquid-phase</text><text x="310" y="706">lithium polysulfide</text><text x="476" y="705">Solid-phase</text><text x="476" y="712">Li₂S₂/Li₂S</text></g>
<g font-family="Liberation Serif, serif" font-size="8.5" fill="#111">
<text x="160" y="659">(CO₃)²⁻</text><text x="149" y="705">(Bi₂O₂)²⁺</text>
<text x="345" y="646">(CO₃)²⁻</text><text x="345" y="670">(Bi₂O₂)²⁺</text><text x="340" y="698">(CO₃)²⁻</text>
</g>
<g fill="#fff" stroke="#3344aa" stroke-width="0.8"><circle cx="153" cy="656" r="5"/><circle cx="153" cy="687" r="5"/><circle cx="364" cy="655" r="5"/><circle cx="365" cy="680" r="5"/><circle cx="364" cy="705" r="5"/></g>
<g stroke="#e02020" stroke-width="1.2"><path d="M150,656h6M150,687h6M153,684v6M361,655h6M362,680h6M365,677v6M361,705h6"/></g>
<rect x="168" y="762" width="40" height="58" fill="url(#teal)"/>
<rect x="228" y="788" width="40" height="33" fill="url(#yel)"/>
<g stroke="#111" stroke-width="1">
<line x1="167" y1="738" x2="213" y2="738"/><line x1="216" y1="738" x2="267" y2="738"/>
<line x1="209" y1="738" x2="209" y2="823"/><line x1="227" y1="738" x2="227" y2="823"/>
<line x1="227" y1="767" x2="267" y2="767"/><line x1="227" y1="788" x2="267" y2="788"/>
<line x1="168" y1="762" x2="208" y2="762" stroke-dasharray="4,2"/><line x1="227" y1="773" x2="267" y2="773" stroke-dasharray="4,2"/>
<line x1="186" y1="750" x2="186" y2="741" marker-end="url(#ak)"/><line x1="186" y1="750" x2="186" y2="759" marker-end="url(#ak)"/>
<line x1="246" y1="752" x2="246" y2="741" marker-end="url(#ak)"/><line x1="246" y1="752" x2="246" y2="764" marker-end="url(#ak)"/>
</g>
<g font-size="8.5" fill="#111">
<text x="150" y="741">E<tspan font-size="5.5">vac</tspan></text><text x="268" y="741">E<tspan font-size="5.5">vac</tspan></text>
<text x="196" y="737" font-weight="bold">Φ<tspan font-size="5.5">m</tspan> &lt; Φ<tspan font-size="5.5">s</tspan></text>
<text x="189" y="753">Φ<tspan font-size="5.5">m</tspan></text><text x="230" y="757">Φ<tspan font-size="5.5">s</tspan></text>
<text x="156" y="766">E<tspan font-size="5.5">F</tspan></text>
<text x="269" y="770">E<tspan font-size="5.5">C</tspan></text><text x="269" y="778">E<tspan font-size="5.5">F</tspan></text><text x="269" y="791">E<tspan font-size="5.5">V</tspan></text>
</g>
<g font-size="8.5" font-weight="bold" fill="#e03030"><text x="150" y="752">6.36 eV</text><text x="251" y="758">6.85 eV</text></g>
<g font-size="4.5" fill="#333" text-anchor="middle" font-weight="bold"><text x="188" y="806">Metallic</text><text x="188" y="812">FeP</text><text x="248" y="806">Semiconductor</text><text x="248" y="812">Fe₂O₃</text><text x="387" y="806">Metallic</text><text x="387" y="812">FeP</text><text x="443" y="806">Semiconductor</text><text x="443" y="812">Fe₂O₃</text></g>
<polygon points="287,774 350,774 350,770 361,778 350,786 350,782 287,782" fill="#f9c8b0"/>
<g font-size="8.5" fill="#111" text-anchor="middle"><text x="323" y="771">contact</text><text x="323" y="793">Form heterojunction</text></g>
<rect x="367" y="762" width="40" height="58" fill="url(#teal)"/>
<rect x="423" y="776" width="40" height="45" fill="url(#yel)"/>
<path d="M407,820 L407,793 Q412,777 423,776 L423,820 Z" fill="url(#dots)"/>
<g stroke="#111" stroke-width="1" fill="none">
<line x1="367" y1="735" x2="462" y2="735"/>
<line x1="407" y1="738" x2="407" y2="823"/><line x1="423" y1="738" x2="423" y2="823"/>
<line x1="367" y1="761" x2="462" y2="761" stroke-dasharray="4,2"/>
<path d="M407,766 Q413,752 423,751 L462,751"/>
<path d="M407,793 Q412,777 423,776 L462,776"/>
</g>
<path d="M398,745 Q410,735 424,738" fill="none" stroke="#f5a0a0" stroke-width="2" marker-end="url(#ak)"/>
<line x1="405" y1="826" x2="428" y2="826" stroke="#9ad0e8" stroke-width="3"/>
<g font-size="8.5" fill="#111">
<text x="350" y="737">E<tspan font-size="5.5">vac</tspan></text><text x="464" y="737">E<tspan font-size="5.5">vac</tspan></text>
<text x="355" y="764">E<tspan font-size="5.5">F</tspan></text><text x="464" y="763">E<tspan font-size="5.5">F</tspan></text>
<text x="464" y="753">E<tspan font-size="5.5">C</tspan></text><text x="464" y="779">E<tspan font-size="5.5">V</tspan></text>
</g>
<g font-size="6" fill="#111"><text x="368" y="758">e⁻</text><text x="377" y="758">e⁻</text><text x="386" y="758">e⁻</text><text x="395" y="758">e⁻</text><text x="430" y="748">e⁻</text><text x="443" y="748">e⁻</text></g>
<text x="413" y="833" font-size="5" fill="#333" text-anchor="middle">BIEF</text>

<!-- ===== Panel 6: spin states ===== -->
<rect x="758" y="621" width="388" height="215" rx="22" fill="#fff" stroke="#b7cfea" stroke-width="5"/>
<line x1="778" y1="773" x2="778" y2="662" stroke="#111" stroke-width="1.5" marker-end="url(#ak)"/>
<text transform="translate(767,716) rotate(-90)" text-anchor="middle" font-size="10" fill="#222">Energy levels</text>
<g stroke="#111" stroke-width="1.5">
<line x1="820" y1="677" x2="855" y2="677"/><line x1="790" y1="701" x2="815" y2="701"/><line x1="852" y1="701" x2="887" y2="701"/><line x1="818" y1="715" x2="853" y2="715"/><line x1="818" y1="734" x2="853" y2="734"/>
<line x1="935" y1="658" x2="970" y2="658"/><line x1="933" y1="673" x2="970" y2="673"/><line x1="935" y1="688" x2="970" y2="688"/><line x1="933" y1="704" x2="970" y2="704"/><line x1="933" y1="727" x2="970" y2="727"/>
<line x1="1062" y1="678" x2="1097" y2="678"/><line x1="1032" y1="703" x2="1067" y2="703"/><line x1="1093" y1="703" x2="1130" y2="703"/><line x1="1060" y1="717" x2="1095" y2="717"/><line x1="1060" y1="737" x2="1095" y2="737"/>
</g>
<g stroke="#2b84d2" stroke-width="1.3">
<line x1="807" y1="709" x2="807" y2="691" marker-end="url(#ab)"/><line x1="812" y1="691" x2="812" y2="709" marker-end="url(#ab)"/>
<line x1="868" y1="709" x2="868" y2="691" marker-end="url(#ab)"/>
<line x1="833" y1="724" x2="833" y2="706" marker-end="url(#ab)"/><line x1="838" y1="706" x2="838" y2="724" marker-end="url(#ab)"/>
<line x1="833" y1="743" x2="833" y2="726" marker-end="url(#ab)"/><line x1="838" y1="726" x2="838" y2="743" marker-end="url(#ab)"/>
<line x1="942" y1="682" x2="942" y2="664" marker-end="url(#ab)"/>
<line x1="960" y1="696" x2="960" y2="678" marker-end="url(#ab)"/>
<line x1="948" y1="713" x2="948" y2="695" marker-end="url(#ab)"/><line x1="953" y1="695" x2="953" y2="713" marker-end="url(#ab)"/>
<line x1="948" y1="737" x2="948" y2="719" marker-end="url(#ab)"/><line x1="953" y1="719" x2="953" y2="737" marker-end="url(#ab)"/>
<line x1="1048" y1="712" x2="1048" y2="694" marker-end="url(#ab)"/><line x1="1053" y1="694" x2="1053" y2="712" marker-end="url(#ab)"/>
<line x1="1075" y1="726" x2="1075" y2="708" marker-end="url(#ab)"/><line x1="1080" y1="708" x2="1080" y2="726" marker-end="url(#ab)"/>
<line x1="1075" y1="746" x2="1075" y2="728" marker-end="url(#ab)"/><line x1="1080" y1="728" x2="1080" y2="746" marker-end="url(#ab)"/>
</g>
<g font-size="11" fill="#222">
<text x="858" y="676">dx²-y²</text><text x="783" y="714">dxz</text><text x="878" y="714">dyz</text><text x="856" y="725">dz²</text><text x="857" y="745">dxy</text>
<text x="973" y="661">dx²-y²</text><text x="978" y="677">dxz</text><text x="978" y="692">dyz</text><text x="978" y="708">dz²</text><text x="978" y="731">dxy</text>
<text x="1101" y="677">dx²-y²</text><text x="1025" y="714">dxz</text><text x="1120" y="714">dyz</text><text x="1098" y="721">dz²</text><text x="1098" y="741">dxy</text>
</g>
<g stroke="#444" stroke-width="0.9" stroke-dasharray="3,2"><line x1="825" y1="740" x2="808" y2="758"/><line x1="945" y1="730" x2="872" y2="757"/><line x1="965" y1="730" x2="1040" y2="757"/><line x1="1092" y1="742" x2="1125" y2="758"/></g>
<g stroke="#111" stroke-width="1.3">
<line x1="794" y1="774" x2="794" y2="757" marker-end="url(#ak)"/><path d="M799,758h14M799,762h14M799,766h14M799,770h14M799,774h14"/>
<line x1="862" y1="774" x2="862" y2="757" marker-end="url(#ak)"/><path d="M867,758h14M867,762h14M867,766h14M867,770h14M867,774h14"/>
<line x1="1038" y1="774" x2="1038" y2="757" marker-end="url(#ak)"/><path d="M1043,758h14M1043,762h14M1043,766h14M1043,770h14M1043,774h14"/>
<line x1="1113" y1="774" x2="1113" y2="757" marker-end="url(#ak)"/><path d="M1118,758h14M1118,762h14M1118,766h14M1118,770h14M1118,774h14"/>
</g>
<circle cx="826" cy="766" r="8" fill="#19b6cf"/><circle cx="823" cy="763" r="3" fill="#8ee8f4" opacity="0.7"/>
<circle cx="1093" cy="767" r="8" fill="#3e5a66"/><circle cx="1090" cy="764" r="3" fill="#90a8b2" opacity="0.6"/>
<g stroke-width="1.4">
<g stroke="#e8c030"><line x1="923" y1="767" x2="913" y2="750"/><line x1="923" y1="767" x2="932" y2="742"/><line x1="923" y1="767" x2="910" y2="780"/><line x1="923" y1="767" x2="927" y2="782"/><line x1="990" y1="768" x2="998" y2="750"/><line x1="990" y1="768" x2="1007" y2="752"/><line x1="990" y1="768" x2="980" y2="780"/><line x1="990" y1="768" x2="1000" y2="775"/></g>
<g stroke="#f08070"><line x1="955" y1="755" x2="953" y2="777"/><line x1="955" y1="755" x2="943" y2="747"/><line x1="955" y1="755" x2="973" y2="743"/><line x1="953" y1="777" x2="943" y2="778"/><line x1="953" y1="777" x2="967" y2="782"/><line x1="923" y1="767" x2="943" y2="747"/><line x1="990" y1="768" x2="973" y2="743"/></g>
</g>
<g fill="#f2de3a" stroke="#d0b820" stroke-width="0.5"><circle cx="913" cy="750" r="5"/><circle cx="932" cy="742" r="5"/><circle cx="943" cy="747" r="5"/><circle cx="973" cy="743" r="5"/><circle cx="998" cy="750" r="5"/><circle cx="1007" cy="752" r="5"/><circle cx="910" cy="780" r="5"/><circle cx="927" cy="782" r="5"/><circle cx="943" cy="778" r="5"/><circle cx="967" cy="782" r="5"/><circle cx="980" cy="780" r="5"/><circle cx="1000" cy="775" r="5"/></g>
<circle cx="923" cy="767" r="6" fill="#3cb4b8"/><circle cx="990" cy="768" r="6" fill="#6a625a"/><circle cx="955" cy="755" r="3.5" fill="#f07060"/><circle cx="953" cy="777" r="3.5" fill="#f07060"/>
<g font-size="11"><text x="778" y="802" fill="#2aa0d8">CoPS₃</text><text x="825" y="802" fill="#222">Low Spin</text><text x="913" y="802" fill="#2aa0d8">FeCoPS₃</text><text x="956" y="802" fill="#e84a4a">High Spin</text><text x="1057" y="802" fill="#2aa0d8">FePS₃</text><text x="1093" y="802" fill="#222">Low Spin</text></g>
</svg>
</body></html>
